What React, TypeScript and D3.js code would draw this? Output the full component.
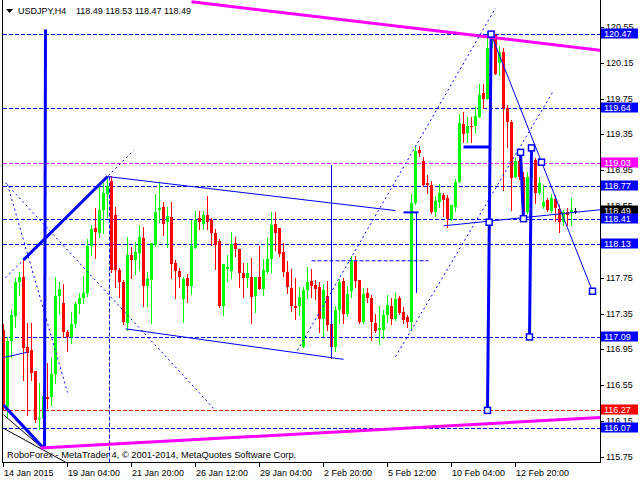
import * as d3 from 'd3';

const W = 640;
const H = 480;

// USDJPY H4 candles, bar 0 = 14 Jan 2015 12:00
const opens = [
  117.17, 116.31, 117.04, 117.32, 117.70, 117.76, 116.98, 116.94, 116.71, 116.17,
  116.18, 116.42, 116.42, 116.68, 117.55, 117.47, 117.15, 117.09, 117.23, 117.46,
  117.52, 117.58, 118.10, 118.31, 118.25, 118.51, 118.68, 118.83, 118.45, 117.84,
  117.70, 117.25, 118.00, 117.95, 118.03, 118.19, 117.66, 117.72, 118.12, 118.51,
  118.54, 118.37, 118.43, 117.92, 117.83, 117.51, 117.75, 117.66, 118.08, 118.42,
  118.35, 118.45, 118.39, 118.25, 118.16, 117.43, 117.85, 117.83, 118.14, 118.07,
  117.80, 117.75, 117.76, 117.55, 117.76, 117.62, 117.82, 117.96, 118.35, 118.31,
  118.04, 117.81, 117.64, 117.44, 117.43, 116.98, 117.61, 117.71, 117.67, 117.65,
  117.29, 117.55, 117.23, 116.98, 117.39, 117.71, 117.35, 117.60, 117.94, 117.73,
  117.26, 117.58, 117.53, 117.24, 117.17, 117.17, 117.33, 117.44, 117.29, 117.52,
  117.37, 117.31, 117.26, 118.59, 119.18, 119.05, 118.81, 118.79, 118.48, 118.60,
  118.67, 118.64, 118.41, 118.54, 118.82, 119.47, 119.37, 119.44, 119.44, 119.55,
  119.81, 119.75, 120.32, 120.46, 120.15, 120.27, 119.65, 119.49, 118.88, 119.05,
  118.88, 118.48, 118.86, 119.07, 118.70, 118.54, 118.62, 118.50, 118.63, 118.52,
  118.37, 118.48, 118.48, 118.49,
];
const highs = [
  117.23, 117.09, 117.39, 117.75, 117.82, 117.95, 117.25, 117.25, 116.71, 116.58,
  116.50, 116.80, 116.86, 117.76, 117.70, 117.68, 117.17, 117.37, 117.48, 117.58,
  117.77, 118.18, 118.34, 118.53, 118.77, 118.81, 118.89, 118.89, 118.54, 117.86,
  117.73, 118.20, 118.09, 118.15, 118.34, 118.32, 117.81, 118.14, 118.68, 118.82,
  118.60, 118.54, 118.60, 117.95, 117.86, 117.76, 117.79, 118.40, 118.49, 118.49,
  118.49, 118.66, 118.42, 118.29, 118.18, 117.90, 118.01, 118.26, 118.21, 118.07,
  117.92, 117.92, 117.97, 117.76, 118.10, 117.96, 118.19, 118.48, 118.48, 118.31,
  118.14, 117.94, 117.85, 117.75, 117.65, 117.65, 117.87, 117.85, 117.73, 117.70,
  117.68, 117.71, 117.26, 117.44, 117.74, 117.75, 117.66, 117.99, 117.99, 117.73,
  117.64, 117.64, 117.56, 117.35, 117.44, 117.39, 117.56, 117.53, 117.58, 117.55,
  117.42, 117.34, 118.68, 119.21, 119.22, 119.10, 118.90, 118.83, 118.66, 118.80,
  118.70, 118.67, 118.56, 118.85, 119.58, 119.60, 119.54, 119.54, 119.66, 119.91,
  119.91, 120.49, 120.47, 120.47, 120.34, 120.32, 119.68, 119.51, 119.09, 119.16,
  118.93, 118.93, 119.20, 119.09, 118.88, 118.79, 118.64, 118.68, 118.67, 118.56,
  118.51, 118.53, 118.64, 118.53,
];
const lows = [
  116.28, 116.20, 116.87, 117.20, 117.56, 116.61, 116.22, 116.61, 116.14, 116.06,
  116.11, 116.30, 116.33, 116.58, 117.36, 117.09, 116.93, 117.02, 117.20, 117.36,
  117.47, 117.55, 118.01, 117.97, 118.20, 118.25, 118.43, 117.82, 117.65, 117.54,
  117.23, 117.17, 117.75, 117.79, 117.84, 117.44, 117.44, 117.25, 118.11, 118.37,
  118.23, 118.09, 117.75, 117.53, 117.65, 117.26, 117.48, 117.57, 118.08, 118.30,
  118.30, 118.29, 118.12, 117.85, 117.42, 117.33, 117.71, 117.75, 117.99, 117.65,
  117.54, 117.65, 117.25, 117.37, 117.62, 117.56, 117.80, 117.81, 118.06, 117.99,
  117.77, 117.58, 117.38, 117.29, 117.34, 116.98, 117.52, 117.54, 117.51, 117.15,
  117.10, 117.17, 116.86, 116.93, 117.25, 117.25, 117.32, 117.54, 117.65, 117.24,
  117.24, 117.48, 117.06, 117.14, 117.01, 117.08, 117.26, 117.23, 117.28, 117.35,
  117.25, 117.20, 117.17, 118.57, 119.11, 118.77, 118.70, 118.47, 118.44, 118.54,
  118.44, 118.32, 118.39, 118.49, 118.82, 119.27, 119.27, 119.27, 119.38, 119.55,
  119.65, 119.75, 120.18, 120.02, 120.01, 118.73, 119.21, 118.51, 118.87, 118.85,
  118.45, 118.47, 118.79, 118.59, 118.68, 118.53, 118.49, 118.48, 118.38, 118.26,
  118.34, 118.34, 118.34, 118.47,
];
const closes = [
  116.31, 117.04, 117.34, 117.70, 117.76, 116.97, 116.91, 116.69, 116.16, 116.18,
  116.43, 116.40, 116.68, 117.55, 117.62, 117.15, 117.09, 117.23, 117.46, 117.52,
  117.58, 118.10, 118.30, 118.26, 118.51, 118.70, 118.78, 117.84, 117.84, 117.70,
  117.26, 118.01, 117.95, 118.04, 118.20, 117.66, 117.74, 118.14, 118.48, 118.53,
  118.35, 118.44, 117.90, 117.83, 117.76, 117.74, 117.66, 118.10, 118.40, 118.37,
  118.45, 118.37, 118.25, 118.12, 117.43, 117.90, 117.87, 118.13, 118.07, 117.80,
  117.75, 117.80, 117.54, 117.76, 117.62, 117.84, 117.96, 118.34, 118.25, 118.02,
  117.81, 117.65, 117.44, 117.41, 117.54, 117.61, 117.70, 117.66, 117.63, 117.29,
  117.61, 117.22, 116.98, 117.39, 117.70, 117.35, 117.57, 117.95, 117.71, 117.26,
  117.57, 117.52, 117.26, 117.16, 117.19, 117.33, 117.45, 117.29, 117.51, 117.36,
  117.28, 117.26, 118.59, 119.17, 119.14, 118.79, 118.79, 118.48, 118.61, 118.70,
  118.62, 118.41, 118.56, 118.82, 119.48, 119.36, 119.44, 119.43, 119.56, 119.79,
  119.75, 120.32, 120.45, 120.02, 120.27, 119.65, 119.49, 118.86, 119.05, 118.88,
  118.48, 118.88, 119.05, 118.70, 118.81, 118.60, 118.51, 118.64, 118.53, 118.37,
  118.48, 118.45, 118.51, 118.49,
];

const timeLabels = ['14 Jan 2015', '19 Jan 04:00', '21 Jan 20:00', '26 Jan 12:00', '29 Jan 04:00', '2 Feb 20:00', '5 Feb 12:00', '10 Feb 04:00', '12 Feb 20:00'];
const timeLabelBars = [0, 16, 32, 48, 64, 80, 96, 112, 128];
const priceTicks = [115.75, 116.15, 116.55, 116.95, 117.35, 117.75, 118.15, 118.55, 118.95, 119.35, 119.75, 120.15, 120.55];

// horizontal levels drawn across the chart
const levelPrices = [120.47, 119.64, 119.03, 118.77, 118.41, 118.13, 117.09, 116.27, 116.07];
const levelColors = ['#0000ff', '#0000ff', '#ff00ff', '#0000ff', '#0000ff', '#0000ff', '#0000ff', '#ff0000', '#0000ff'];
const lastPrice = 118.49;
const titleSymbol = 'USDJPY,H4';
const titleQuotes = '118.49 118.53 118.47 118.49';

// objects: [bar1, price1, bar2, price2]
const magentaLines = [
  [47, 120.83, 149.25, 120.29],
  [9.25, 115.85, 149.25, 116.19],
];
const thickBlueLines = [
  [5, 117.95, 26, 118.88],
  [0, 116.33, 9.75, 115.86],
  [10.5, 120.52, 10.25, 115.86],
  [115, 119.21, 121.5, 119.21],
  [121.9, 120.47, 121, 116.27],
  [129.25, 119.15, 130, 118.41],
  [132, 119.2, 131.5, 117.09],
];
const midBlueLines = [
  [100, 118.48, 103.75, 118.48],
];
const thinBlueLines = [
  [26, 118.88, 98, 118.5],
  [30.5, 117.18, 85, 116.84],
  [0, 116.86, 6, 116.92],
  [82, 119.01, 82, 116.86],
  [103.25, 118.48, 103.25, 117.58],
  [121.9, 120.47, 147.25, 117.6],
  [110, 118.33, 149.25, 118.51],
];
const dottedBlueLines = [
  [0.5, 118.81, 53, 116.27],
  [0.5, 117.75, 32.5, 119.17],
  [1, 118.79, 16, 116.47],
  [73.5, 116.94, 123, 120.76],
  [98, 116.87, 137.25, 119.82],
];
const dashedBlueLines = [
  [26.5, 118.88, 26.5, 115.6],
  [77, 117.94, 106.25, 117.94],
];
const blackLines = [
  [0, 116.07, 16, 115.68],
  [0, 116.22, 9.75, 115.85],
];
const squareBars = [121.9, 121.4, 121, 129.25, 130, 132, 131.5, 134.5, 147.25];
const squarePrices = [120.47, 118.37, 116.27, 119.15, 118.41, 119.2, 117.09, 119.04, 117.6];

const FONT = "'Liberation Sans', Arial, sans-serif";

export default function App() {
  const x = d3.scaleLinear().domain([0, 1]).range([3, 7]);
  const y = d3.scaleLinear().domain([115.75, 120.55]).range([457, 26.92]);
  const ry = (p: number) => Math.round(y(p));

  const seg = (list: number[][], color: string, width: number, dash?: string, key = '') =>
    list.map((s, i) => (
      <line
        key={key + i}
        x1={x(s[0]) + 0.5}
        y1={y(s[1])}
        x2={x(s[2]) + 0.5}
        y2={y(s[3])}
        stroke={color}
        strokeWidth={width}
        strokeDasharray={dash}
      />
    ));

  const candles = opens.map((o, i) => {
    const c = closes[i];
    const cx = Math.round(x(i));
    const last = i === opens.length - 1;
    const color = last ? '#000000' : c >= o ? '#00ff00' : '#ff0000';
    const top = ry(Math.max(o, c));
    const bot = ry(Math.min(o, c));
    const hy = ry(highs[i]);
    const ly = ry(lows[i]);
    return (
      <g key={'c' + i} fill={color}>
        <rect x={cx} y={hy} width={1} height={ly - hy + 1} />
        <rect x={cx - 1} y={top} width={3} height={Math.max(1, bot - top)} />
      </g>
    );
  });

  const labelBox = (p: number, bg: string, key: string) => {
    const cy = ry(p);
    return (
      <g key={key}>
        <rect x={601} y={cy - 5.5} width={37} height={10} fill={bg} />
        <text x={604} y={cy + 3.3} fill="#ffffff" fontSize={9}>
          {p.toFixed(2)}
        </text>
      </g>
    );
  };

  return (
    <div style={{ position: 'fixed', left: 0, top: 0, width: W, height: H, background: '#ffffff' }}>
      <svg width={W} height={H} style={{ display: 'block' }} fontFamily={FONT} fontSize={9}>
        <defs>
          <clipPath id="plot">
            <rect x={3} y={0} width={597} height={462} />
          </clipPath>
        </defs>
        <rect x={0} y={0} width={W} height={H} fill="#ffffff" />

        <g clipPath="url(#plot)">
          {/* level lines */}
          <g shapeRendering="crispEdges">
            {levelPrices.map((p, i) => (
              <line key={'l' + i} x1={3} x2={600} y1={ry(p) + 0.5} y2={ry(p) + 0.5}
                stroke={levelColors[i]} strokeDasharray="4,2" />
            ))}
          </g>

          <g shapeRendering="crispEdges">{candles}</g>

          {seg(dashedBlueLines, '#0000ff', 1, '4,2', 'ds')}
          {seg(dottedBlueLines, '#0000ff', 1, '2,3', 'dt')}
          {seg(blackLines, '#000000', 1, undefined, 'bk')}
          {seg(thinBlueLines, '#0000ff', 1, undefined, 'tb')}
          {seg(midBlueLines, '#0000ff', 2, undefined, 'mb')}
          {seg(thickBlueLines, '#0000ff', 3, undefined, 'kb')}
          {seg(magentaLines, '#ff00ff', 3, undefined, 'mg')}

          {squareBars.map((b, i) => (
            <rect key={'sq' + i} x={x(b) - 2.5} y={y(squarePrices[i]) - 3} width={6} height={6}
              fill="#ffffff" stroke="#0000ff" strokeWidth={1.5} />
          ))}
        </g>

        {/* frame */}
        <g stroke="#000000" shapeRendering="crispEdges">
          <line x1={2.5} x2={2.5} y1={0} y2={462.5} />
          <line x1={2} x2={601} y1={462.5} y2={462.5} />
          <line x1={600.5} x2={600.5} y1={0} y2={463} />
        </g>

        {/* price axis */}
        <g shapeRendering="crispEdges">
          {priceTicks.map((p) => (
            <line key={'pt' + p} x1={601} x2={604} y1={ry(p) + 0.5} y2={ry(p) + 0.5} stroke="#000" />
          ))}
        </g>
        {priceTicks.map((p) => (
          <text key={'ptl' + p} x={606} y={ry(p) + 3.3} fill="#000">
            {p.toFixed(2)}
          </text>
        ))}

        {/* time axis */}
        <g shapeRendering="crispEdges">
          {timeLabelBars.map((b) => (
            <line key={'tt' + b} x1={x(b) + 0.5} x2={x(b) + 0.5} y1={463} y2={467} stroke="#000" />
          ))}
        </g>
        {timeLabels.map((t, i) => (
          <text key={'tl' + i} x={x(timeLabelBars[i]) + 1} y={475.5} fill="#000">
            {t}
          </text>
        ))}

        {/* price labels */}
        {labelBox(lastPrice, '#000000', 'last')}
        {levelPrices.map((p, i) => labelBox(p, levelColors[i], 'lb' + i))}

        {/* title and credits */}
        <path d="M6,9 L13,9 L9.5,13 Z" fill="#000" />
        <text x={18} y={14} fill="#000">{titleSymbol}</text>
        <text x={76} y={14} fill="#000">{titleQuotes}</text>
        <text x={7} y={458} fill="#000" fontSize={9.3}>
          RoboForex - MetaTrader 4, © 2001-2014, MetaQuotes Software Corp.
        </text>
      </svg>
    </div>
  );
}
